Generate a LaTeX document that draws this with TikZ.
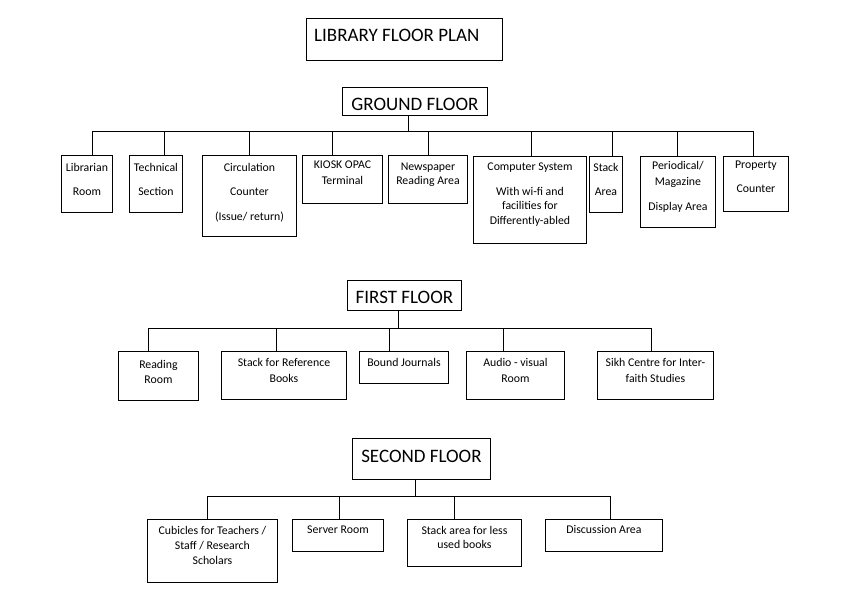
\documentclass[tikz,border=0pt]{standalone}
\usepackage{fontspec}
\setmainfont{Carlito}
\usepackage{tikz}
\usetikzlibrary{positioning}

\tikzset{
  room/.style={draw,line width=0.9pt,anchor=north west,inner sep=0pt},
  roomtext/.style={align=center,inner sep=0pt,font=\fontsize{11.8}{15}\selectfont},
  floorbox/.style={draw,line width=0.9pt,anchor=north west,inner sep=0pt},
  floortext/.style={inner sep=0pt,font=\fontsize{19}{23}\selectfont},
  link/.style={line width=0.9pt}
}

\begin{document}
\begin{tikzpicture}[x=1pt,y=-1pt]
    \useasboundingbox (0,0) rectangle (842,606);

    % titles
    \node[floorbox,minimum width=196,minimum height=42] (plan) at (306,18) {};
    \node[floortext,above right=19.3pt and 8pt of plan.south west] (plan-t) {LIBRARY FLOOR PLAN};
    \node[floorbox,minimum width=145,minimum height=28.5] (gf) at (342,86.5) {};
    \node[floortext,above=5pt of gf.south] (gf-t) {GROUND FLOOR};
    \node[floorbox,minimum width=114,minimum height=30] (ff) at (347,280) {};
    \node[floortext,above=6.7pt of ff.south] (ff-t) {FIRST FLOOR};
    \node[floorbox,minimum width=138,minimum height=41] (sf) at (352,438) {};
    \node[floortext,above=17.3pt of sf.south] (sf-t) {SECOND FLOOR};

    % ground floor
    \node[room,minimum width=51,minimum height=57] (lib) at (61,155) {};
    \node[roomtext,below=8pt of lib.north] (lib-t) {Librarian\\[9pt]Room};
    \node[room,minimum width=53,minimum height=57] (tech) at (129,155) {};
    \node[roomtext,below=8pt of tech.north] (tech-t) {Technical\\[9pt]Section};
    \node[room,minimum width=94,minimum height=81] (circ) at (202,155) {};
    \node[roomtext,below=8pt of circ.north] (circ-t) {Circulation\\[9pt]Counter\\[10pt](Issue/ return)};
    \node[room,minimum width=80,minimum height=48] (kiosk) at (302,155) {};
    \node[roomtext,below=6pt of kiosk.north] (kiosk-t) {KIOSK OPAC\\[1pt]Terminal};
    \node[room,minimum width=79,minimum height=48] (news) at (388,155) {};
    \node[roomtext,below=8pt of news.north] (news-t) {Newspaper\\[-1pt]Reading Area};
    \node[room,minimum width=113,minimum height=87] (comp) at (473,156) {};
    \node[roomtext,below=7pt of comp.north] (comp-t) {Computer System\\[10pt]With wi-fi and\\[-1pt]facilities for\\Differently-abled};
    \node[room,minimum width=33,minimum height=56] (stack) at (589,156) {};
    \node[roomtext,below=7pt of stack.north] (stack-t) {Stack\\[9pt]Area};
    \node[room,minimum width=75,minimum height=71] (peri) at (640,156) {};
    \node[roomtext,below=5pt of peri.north] (peri-t) {Periodical/\\[1pt]Magazine\\[10pt]Display Area};
    \node[room,minimum width=65,minimum height=55] (prop) at (723,156) {};
    \node[roomtext,below=5pt of prop.north] (prop-t) {Property\\[9pt]Counter};

    \coordinate (gbus) at (408,131);
    \draw[link] (gf.south -| gbus) -- (gbus);
    \foreach \n/\x in {lib/92,tech/164,circ/249,kiosk/332,news/428,comp/531,stack/612,peri/677,prop/753}
        \draw[link] (\n.north -| \x,0) |- (gbus);

    % first floor
    \node[room,minimum width=80,minimum height=49] (read) at (118,351) {};
    \node[roomtext,below=9pt of read.north] (read-t) {Reading\\Room};
    \node[room,minimum width=125,minimum height=48] (sref) at (221,351) {};
    \node[roomtext,below=7pt of sref.north] (sref-t) {Stack for Reference\\[1pt]Books};
    \node[room,minimum width=89,minimum height=32] (bound) at (359,351) {};
    \node[roomtext,below=7pt of bound.north] (bound-t) {Bound Journals};
    \node[room,minimum width=98,minimum height=48] (audio) at (466,351) {};
    \node[roomtext,below=7pt of audio.north] (audio-t) {Audio - visual\\[1pt]Room};
    \node[room,minimum width=116,minimum height=48] (sikh) at (597,351) {};
    \node[roomtext,below=7pt of sikh.north] (sikh-t) {Sikh Centre for Inter-\\[1pt]faith Studies};

    \coordinate (fbus) at (398,328.5);
    \draw[link] (ff.south -| fbus) -- (fbus);
    \foreach \n/\x in {read/148,sref/276,bound/389,audio/503,sikh/651}
        \draw[link] (\n.north -| \x,0) |- (fbus);

    % second floor
    \node[room,minimum width=130,minimum height=63] (cub) at (147,519) {};
    \node[roomtext,below=7.5pt of cub.north] (cub-t) {Cubicles for Teachers /\\Staff / Research\\Scholars};
    \node[room,minimum width=91,minimum height=32] (server) at (292,519) {};
    \node[roomtext,below=6.5pt of server.north] (server-t) {Server Room};
    \node[room,minimum width=114,minimum height=47] (sless) at (407,519) {};
    \node[roomtext,below=7.5pt of sless.north] (sless-t) {Stack area for less\\[-1pt]used books};
    \node[room,minimum width=117,minimum height=32] (disc) at (545,519) {};
    \node[roomtext,below=6.5pt of disc.north] (disc-t) {Discussion Area};

    \coordinate (sbus) at (415,496);
    \draw[link] (sf.south -| sbus) -- (sbus);
    \foreach \n/\x in {cub/207,server/339,sless/454,disc/610}
        \draw[link] (\n.north -| \x,0) |- (sbus);
\end{tikzpicture}
\end{document}
